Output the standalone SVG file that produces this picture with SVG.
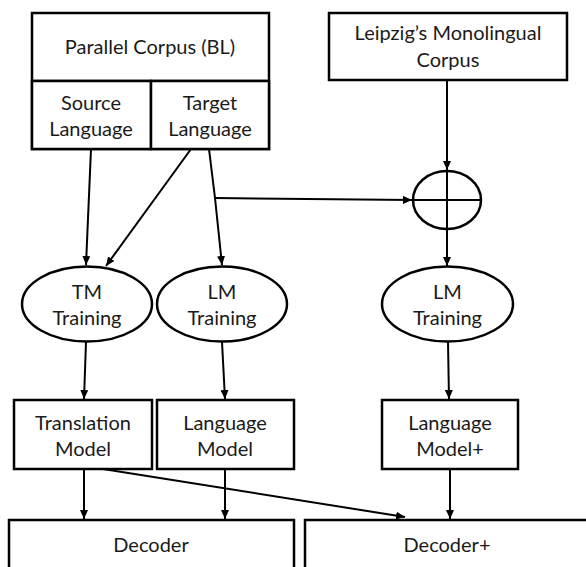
<svg xmlns="http://www.w3.org/2000/svg" width="586" height="567" viewBox="0 0 586 567">
<style>
.box{fill:#fff;stroke:#000;stroke-width:2.5}
.ln{fill:none;stroke:#000;stroke-width:2}
.t{font-family:Lato,"Open Sans","Liberation Sans",sans-serif;font-size:20px;fill:#1a1a1a;text-anchor:middle}
</style>
<defs>
<marker id="ah" markerUnits="userSpaceOnUse" markerWidth="10" markerHeight="8" refX="9" refY="4" orient="auto">
<path d="M0,0 L9,4 L0,8 Z" fill="#000"/>
</marker>
</defs>
<rect width="586" height="567" fill="#fff"/>
<g id="connectors">
<line class="ln" x1="91" y1="149" x2="86" y2="265" marker-end="url(#ah)"/>
<line class="ln" x1="191" y1="149" x2="106" y2="266" marker-end="url(#ah)"/>
<polyline class="ln" points="209,149 215,198 222,265" marker-end="url(#ah)"/>
<line class="ln" x1="215" y1="198" x2="412" y2="200" marker-end="url(#ah)"/>
<line class="ln" x1="447" y1="80" x2="447" y2="170" marker-end="url(#ah)"/>
<line class="ln" x1="447" y1="229" x2="447" y2="266" marker-end="url(#ah)"/>
<line class="ln" x1="86" y1="342" x2="84" y2="399" marker-end="url(#ah)"/>
<line class="ln" x1="222" y1="342" x2="225" y2="399" marker-end="url(#ah)"/>
<line class="ln" x1="448" y1="342" x2="449" y2="399" marker-end="url(#ah)"/>
<line class="ln" x1="84" y1="469" x2="84" y2="519" marker-end="url(#ah)"/>
<line class="ln" x1="225" y1="469" x2="225" y2="519" marker-end="url(#ah)"/>
<line class="ln" x1="103" y1="469" x2="405" y2="517" marker-end="url(#ah)"/>
<line class="ln" x1="450" y1="469" x2="450" y2="519" marker-end="url(#ah)"/>
</g>
<g id="parallel-corpus">
<rect class="box" x="32" y="13" width="237" height="136"/>
<line class="box" x1="32" y1="81" x2="269" y2="81"/>
<text class="t" x="150" y="54">Parallel Corpus (BL)</text>
</g>
<g id="source-language">
<rect class="box" x="32" y="81" width="119" height="68"/>
<text class="t" x="91" y="110">Source</text>
<text class="t" x="91" y="136">Language</text>
</g>
<g id="target-language">
<rect class="box" x="151" y="81" width="118" height="68"/>
<text class="t" x="210" y="110">Target</text>
<text class="t" x="210" y="136">Language</text>
</g>
<g id="leipzig">
<rect class="box" x="329" y="13" width="238" height="67"/>
<text class="t" x="448" y="40">Leipzig’s Monolingual</text>
<text class="t" x="448" y="67">Corpus</text>
</g>
<g id="combine">
<ellipse class="box" cx="447" cy="200" rx="34" ry="29"/>
<line class="ln" x1="413" y1="200" x2="481" y2="200"/>
<line class="ln" x1="447" y1="171" x2="447" y2="229"/>
</g>
<g id="tm-training">
<ellipse class="box" cx="87" cy="304" rx="65" ry="37.5"/>
<text class="t" x="87" y="299">TM</text>
<text class="t" x="87" y="325">Training</text>
</g>
<g id="lm-training">
<ellipse class="box" cx="222" cy="304" rx="65" ry="37.5"/>
<text class="t" x="222" y="299">LM</text>
<text class="t" x="222" y="325">Training</text>
</g>
<g id="lm-training-plus">
<ellipse class="box" cx="447.5" cy="304" rx="65.5" ry="37.5"/>
<text class="t" x="447.5" y="299">LM</text>
<text class="t" x="447.5" y="325">Training</text>
</g>
<g id="translation-model">
<rect class="box" x="14" y="400" width="138" height="69"/>
<text class="t" x="83" y="430">Translation</text>
<text class="t" x="83" y="456">Model</text>
</g>
<g id="language-model">
<rect class="box" x="157" y="400" width="137" height="69"/>
<text class="t" x="225" y="430">Language</text>
<text class="t" x="225" y="456">Model</text>
</g>
<g id="language-model-plus">
<rect class="box" x="382" y="400" width="136" height="69"/>
<text class="t" x="450" y="430">Language</text>
<text class="t" x="450" y="456">Model+</text>
</g>
<g id="decoder">
<rect class="box" x="9" y="520" width="285" height="70"/>
<text class="t" x="151" y="552">Decoder</text>
</g>
<g id="decoder-plus">
<rect class="box" x="305" y="520" width="300" height="70"/>
<text class="t" x="447" y="552">Decoder+</text>
</g>
</svg>
